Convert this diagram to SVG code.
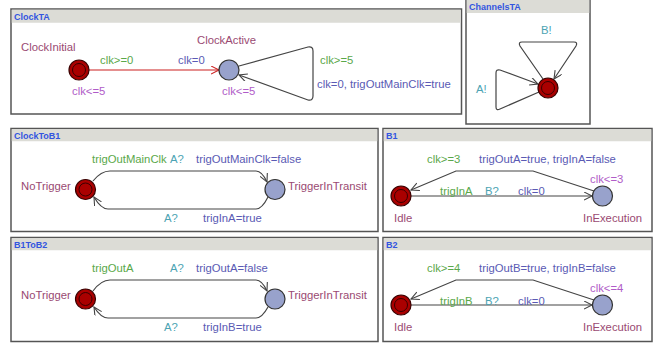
<svg xmlns="http://www.w3.org/2000/svg" width="659" height="347" viewBox="0 0 659 347">
<defs>
<style>
text{font-family:"Liberation Sans",Arial,sans-serif;font-size:11.3px}
.title{font-size:9px;font-weight:bold;fill:#3355e0}
.panel{fill:#fff;stroke:#555;stroke-width:1.5}
.head{fill:#dcdcd6}
.name{fill:#9a4a72}
.guard{fill:#5aa84a}
.sync{fill:#4ca3b3}
.upd{fill:#5a5ab4}
.inv{fill:#b05cc8}
.edge{fill:none;stroke:#444;stroke-width:1.2;marker-end:url(#arr)}
.redge{fill:none;stroke:#cc2020;stroke-width:1.2;marker-end:url(#arrR)}
.init{fill:#aa0000;stroke:#3a0000;stroke-width:1.2}
.ring{fill:none;stroke:#3a0000;stroke-width:1}
.loc{fill:#98a2cc;stroke:#333;stroke-width:1.2}
</style>
<marker id="arr" markerUnits="userSpaceOnUse" markerWidth="10" markerHeight="10" refX="8" refY="4" orient="auto"><path d="M0,0 L8,4 L0,8" fill="none" stroke="#444" stroke-width="1.1"/></marker>
<marker id="arrR" markerUnits="userSpaceOnUse" markerWidth="10" markerHeight="10" refX="8" refY="4" orient="auto"><path d="M0,0 L8,4 L0,8" fill="none" stroke="#cc2020" stroke-width="1.1"/></marker>
</defs>

<!-- Panels -->
<g id="panels">
<rect class="panel" x="11" y="9" width="450.5" height="105"/>
<rect class="head" x="11.75" y="9.75" width="449" height="13"/>
<text class="title" x="14" y="19.5">ClockTA</text>

<rect class="panel" x="466" y="-2" width="124" height="126"/>
<rect class="head" x="466.75" y="0" width="122.5" height="13"/>
<text class="title" x="469" y="10">ChannelsTA</text>

<rect class="panel" x="11" y="128.5" width="367" height="103"/>
<rect class="head" x="11.75" y="129.25" width="365.5" height="12"/>
<text class="title" x="14" y="138.5">ClockToB1</text>

<rect class="panel" x="383" y="128.5" width="269" height="103"/>
<rect class="head" x="383.75" y="129.25" width="267.5" height="12"/>
<text class="title" x="386" y="138.5">B1</text>

<rect class="panel" x="11" y="237.5" width="367" height="104"/>
<rect class="head" x="11.75" y="238.25" width="365.5" height="12"/>
<text class="title" x="14" y="247.5">B1ToB2</text>

<rect class="panel" x="383" y="237.5" width="269" height="104"/>
<rect class="head" x="383.75" y="238.25" width="267.5" height="12"/>
<text class="title" x="386" y="247.5">B2</text>
</g>

<!-- Connectors -->
<g id="connectors">
<path class="redge" d="M89,70 L219,70"/>
<path class="edge" d="M239,66 L308,47 Q313,46 313,51 L313,96 Q313,101 308,100 L239,75"/>

<path class="edge" d="M543,79 L520,46 Q518,42 522,42 L574,42 Q578,42 576,46 L554,79"/>
<path class="edge" d="M539,92 L500,109 Q496,111 496,107 L496,73 Q496,69 500,70 L538,84"/>

<path class="edge" d="M93,181 Q101,171 110,171 L256,171 Q262,171 267,182"/>
<path class="edge" d="M268,197 Q262,209 256,209 L108,209 Q101,209 94,197"/>

<path class="edge" d="M411,196 L592,196"/>
<path class="edge" d="M594,191 L533,171 L456,171 L411,190"/>

<path class="edge" d="M93,291 Q101,280 110,280 L256,280 Q262,280 267,291"/>
<path class="edge" d="M268,307 Q262,318 256,318 L108,318 Q101,318 94,307"/>

<path class="edge" d="M411,305 L592,305"/>
<path class="edge" d="M594,300 L533,280 L456,280 L411,299"/>
</g>

<!-- ClockTA -->
<g id="ClockInitial">
<circle class="init" cx="79" cy="70" r="10"/><circle class="ring" cx="79" cy="70" r="6.5"/>
<text class="name" x="21" y="51">ClockInitial</text>
<text class="inv" x="72" y="95">clk&lt;=5</text>
</g>
<g id="ClockActive">
<circle class="loc" cx="229" cy="70" r="10"/>
<text class="name" x="197" y="44">ClockActive</text>
<text class="inv" x="222" y="95">clk&lt;=5</text>
</g>
<g id="ClockTA-labels">
<text class="guard" x="100" y="64">clk&gt;=0</text>
<text class="upd" x="178" y="64">clk=0</text>
<text class="guard" x="320" y="64">clk&gt;=5</text>
<text class="upd" x="317" y="88">clk=0, trigOutMainClk=true</text>
</g>

<!-- ChannelsTA -->
<g id="ChannelsInit">
<circle class="init" cx="548" cy="88" r="10"/><circle class="ring" cx="548" cy="88" r="6.5"/>
</g>
<g id="ChannelsTA-labels">
<text class="sync" x="541" y="34">B!</text>
<text class="sync" x="476" y="93">A!</text>
</g>

<!-- ClockToB1 -->
<g id="C1-NoTrigger">
<circle class="init" cx="85.5" cy="189.5" r="10"/><circle class="ring" cx="85.5" cy="189.5" r="6.5"/>
<text class="name" x="21" y="190">NoTrigger</text>
</g>
<g id="C1-TriggerInTransit">
<circle class="loc" cx="275" cy="189.5" r="10"/>
<text class="name" x="288" y="190">TriggerInTransit</text>
</g>
<g id="ClockToB1-labels">
<text class="guard" x="92" y="163">trigOutMainClk</text>
<text class="sync" x="170" y="163">A?</text>
<text class="upd" x="196" y="163">trigOutMainClk=false</text>
<text class="sync" x="164" y="222">A?</text>
<text class="upd" x="203" y="222">trigInA=true</text>
</g>

<!-- B1 -->
<g id="B1-Idle">
<circle class="init" cx="401" cy="196" r="10"/><circle class="ring" cx="401" cy="196" r="6.5"/>
<text class="name" x="394" y="222">Idle</text>
</g>
<g id="B1-InExecution">
<circle class="loc" cx="602.5" cy="196" r="10"/>
<text class="inv" x="590" y="183">clk&lt;=3</text>
<text class="name" x="583" y="222">InExecution</text>
</g>
<g id="B1-labels">
<text class="guard" x="427" y="163">clk&gt;=3</text>
<text class="upd" x="479" y="163">trigOutA=true, trigInA=false</text>
<text class="guard" x="440" y="195">trigInA</text>
<text class="sync" x="485" y="195">B?</text>
<text class="upd" x="518" y="195">clk=0</text>
</g>

<!-- B1ToB2 -->
<g id="C2-NoTrigger">
<circle class="init" cx="85.5" cy="299" r="10"/><circle class="ring" cx="85.5" cy="299" r="6.5"/>
<text class="name" x="21" y="299">NoTrigger</text>
</g>
<g id="C2-TriggerInTransit">
<circle class="loc" cx="275" cy="299" r="10"/>
<text class="name" x="288" y="299">TriggerInTransit</text>
</g>
<g id="B1ToB2-labels">
<text class="guard" x="92" y="272">trigOutA</text>
<text class="sync" x="170" y="272">A?</text>
<text class="upd" x="196" y="272">trigOutA=false</text>
<text class="sync" x="164" y="331">A?</text>
<text class="upd" x="203" y="331">trigInB=true</text>
</g>

<!-- B2 -->
<g id="B2-Idle">
<circle class="init" cx="401" cy="305" r="10"/><circle class="ring" cx="401" cy="305" r="6.5"/>
<text class="name" x="394" y="331">Idle</text>
</g>
<g id="B2-InExecution">
<circle class="loc" cx="602.5" cy="305" r="10"/>
<text class="inv" x="590" y="292">clk&lt;=4</text>
<text class="name" x="583" y="331">InExecution</text>
</g>
<g id="B2-labels">
<text class="guard" x="427" y="272">clk&gt;=4</text>
<text class="upd" x="479" y="272">trigOutB=true, trigInB=false</text>
<text class="guard" x="440" y="305">trigInB</text>
<text class="sync" x="485" y="305">B?</text>
<text class="upd" x="518" y="305">clk=0</text>
</g>
</svg>
